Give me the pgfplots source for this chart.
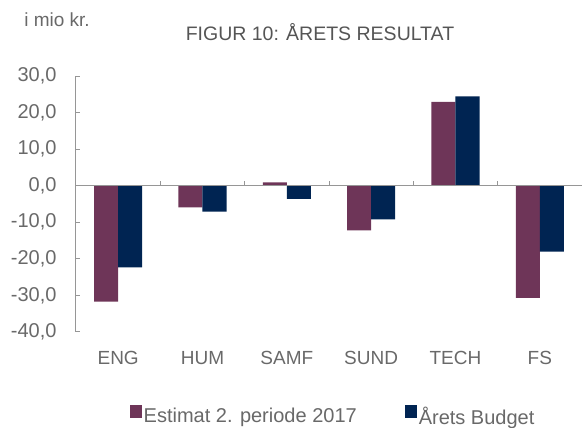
\documentclass[border=0pt]{standalone}
\usepackage{fontspec}
\setmainfont{Liberation Sans}
\usepackage{pgfplots}
\usepackage{pgfplotstable}
\pgfplotsset{compat=1.18}

\definecolor{estimat}{RGB}{110,53,88}
\definecolor{budget}{RGB}{0,36,82}
\definecolor{txt}{RGB}{105,105,105}
\definecolor{titlegray}{RGB}{85,85,85}
\definecolor{axisgray}{RGB}{150,150,150}

% values in mio kr.
\pgfplotstableread{
idx cat  estimat budget
0   ENG  -31.7  -22.3
1   HUM  -5.9   -7.1
2   SAMF  0.9   -3.6
3   SUND -12.2  -9.2
4   TECH 22.9   24.4
5   FS   -30.7  -18.0
}\results

\begin{document}
\begin{tikzpicture}
\useasboundingbox (0,0) rectangle (582pt,428pt);
\node[txt, font=\fontsize{19}{19}\selectfont] at (57pt,408pt) {i mio kr.};
\node[titlegray, font=\fontsize{19.5}{19.5}\selectfont] at (320pt,396pt) {FIGUR 10: ÅRETS RESULTAT};
\begin{axis}[
    at={(76pt,96pt)}, anchor=south west,
    scale only axis,
    width=506pt, height=256pt,
    ybar=0pt,
    bar width=0.285,
    xmin=-0.5, xmax=5.5,
    ymin=-40, ymax=30,
    ytick={-40,-30,...,30},
    xtick={0,...,5},
    xticklabels={ENG,HUM,SAMF,SUND,TECH,FS},
    axis y line*=left,
    axis x line*=bottom,
    x axis line style={draw=none},
    y axis line style={axisgray, line width=1pt},
    xtick style={draw=none},
    ytick style={axisgray, line width=1pt},
    tick align=inside,
    major tick length=4pt,
    yticklabel style={txt, font=\fontsize{20}{20}\selectfont, xshift=-16pt,
        /pgf/number format/.cd, fixed, fixed zerofill, precision=1, use comma,
        assume math mode=true},
    xticklabel style={txt, font=\fontsize{19}{19}\selectfont, yshift=-16pt},
    legend style={at={(0.508,-0.33)}, anchor=center, draw=none,
        font=\fontsize{20}{20}\selectfont, text=txt,
        legend columns=2,
        /tikz/every even column/.append style={column sep=46pt}},
    legend image code/.code={\path[#1,draw=none] (0pt,-0.2em) rectangle (12pt,11pt);},
]
\addplot[fill=estimat, draw=none] table[x=idx, y=estimat]{\results};
\addplot[fill=budget, draw=none] table[x=idx, y=budget]{\results};
\legend{Estimat 2. periode 2017, Årets Budget}
\draw[axisgray, line width=1pt] (axis cs:-0.5,0) -- (axis cs:5.5,0);
\end{axis}
% category separator ticks on the zero line (y=0 sits at 96pt + 256pt*40/70)
\foreach \k in {1,...,6}
  \draw[axisgray, line width=1pt] ({(76+506*\k/6)*1pt}, 242.3pt) -- ({(76+506*\k/6)*1pt}, 247pt);
\end{tikzpicture}
\end{document}
